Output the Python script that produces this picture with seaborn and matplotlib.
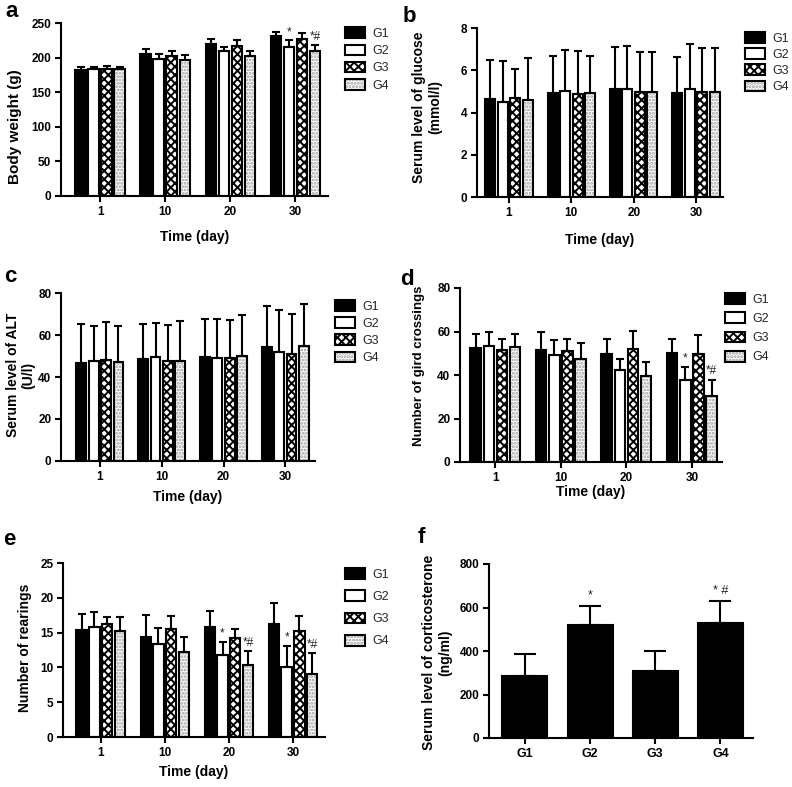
import numpy as np
import pandas as pd
import matplotlib
matplotlib.use("Agg")
import matplotlib.pyplot as plt
from matplotlib.patches import Patch
import seaborn as sns

sns.set_theme(style="ticks")
plt.rcParams['font.family'] = ['Liberation Sans', 'DejaVu Sans']
plt.rcParams['hatch.linewidth'] = 1.4

# ---------------- data ----------------
days = ['1', '10', '20', '30']
groups = ['G1', 'G2', 'G3', 'G4']

# rows: G1..G4, columns: day 1, 10, 20, 30
weight_mean = [[182, 205, 219, 231], [183, 198, 209, 216], [183, 203, 217, 227], [184, 197, 203, 210]]
weight_sd = [[4, 7, 8, 6], [4, 7, 7, 9], [5, 6, 8, 8], [3, 7, 7, 8]]

glucose_mean = [[4.63, 4.91, 5.10, 4.94], [4.52, 5.04, 5.10, 5.13], [4.70, 4.88, 4.96, 4.99], [4.60, 4.91, 4.96, 4.99]]
glucose_sd = [[1.87, 1.75, 1.98, 1.68], [1.93, 1.93, 2.06, 2.11], [1.37, 2.01, 1.92, 2.06], [1.98, 1.75, 1.92, 2.04]]

alt_mean = [[46.9, 48.6, 49.3, 54.5], [47.4, 49.4, 49.0, 52.1], [48.2, 47.4, 49.0, 51.0], [47.1, 47.7, 49.8, 54.8]]
alt_sd = [[18.3, 16.6, 18.3, 19.1], [16.7, 16.3, 18.6, 19.9], [17.8, 17.5, 18.2, 18.9], [17.0, 18.8, 19.8, 19.9]]

cross_mean = [[52.4, 51.3, 49.5, 50.3], [53.3, 49.0, 42.1, 37.5], [51.3, 50.9, 52.1, 49.8], [52.9, 47.5, 39.5, 30.3]]
cross_sd = [[6.6, 8.5, 6.9, 6.1], [6.5, 6.9, 5.4, 6.2], [5.1, 5.5, 8.0, 8.4], [6.1, 7.4, 6.5, 7.6]]

rear_mean = [[15.4, 14.3, 15.8, 16.3], [15.8, 13.3, 11.8, 10.1], [16.2, 15.5, 14.2, 15.3], [15.3, 12.2, 10.3, 9.0]]
rear_sd = [[2.3, 3.2, 2.3, 2.9], [2.1, 2.3, 1.9, 3.0], [1.0, 1.9, 1.3, 2.1], [2.0, 2.1, 2.0, 3.1]]

cort_mean = [287, 521, 307, 529]
cort_sd = [97, 86, 95, 99]

# significance labels (group index, day index, text)
weight_sig = [(1, 3, '*'), (3, 3, '*#')]
cross_sig = [(1, 3, '*'), (3, 3, '*#')]
rear_sig = [(1, 2, '*'), (3, 2, '*#'), (1, 3, '*'), (3, 3, '*#')]
cort_sig = [(1, '*'), (3, '* #')]

# ---------------- styling ----------------
W, H = 792, 787
fig = plt.figure(figsize=(W / 100, H / 100), dpi=100)

face = {'G1': 'black', 'G2': 'white', 'G3': 'white', 'G4': 'white'}
hatch = {'G1': '', 'G2': '', 'G3': 'xxxx', 'G4': '.....'}
hatch_col = {'G3': (0, 0, 0, 1), 'G4': (0.62, 0.62, 0.62, 1)}


def px_axes(l, t, r, b):
    return fig.add_axes([l / W, 1 - b / H, (r - l) / W, (b - t) / H])


def style_axes(ax, yticks, ylim, xlim):
    sns.despine(ax=ax)
    for s in ['left', 'bottom']:
        ax.spines[s].set_linewidth(1.5)
        ax.spines[s].set_color('black')
    ax.set_ylim(*ylim)
    ax.set_yticks(yticks)
    ax.set_xlim(*xlim)
    ax.tick_params(axis='both', width=1.5, length=4, color='black', pad=3,
                   labelsize=8.5, labelcolor='black')
    for lab in ax.get_xticklabels() + ax.get_yticklabels():
        lab.set_fontweight('bold')


def set_hatch(p, g):
    if hatch[g]:
        p.set_hatch(hatch[g])
        if hasattr(p, 'set_hatchcolor'):
            try:
                p.set_hatchcolor(hatch_col[g])
            except Exception:
                p._hatch_color = hatch_col[g]
        else:
            p._hatch_color = hatch_col[g]


def grouped_panel(rect, mean, sd, yticks, ylim, xlim, ylabel, ylabel_xy, xlabel_y,
                  leg_xy, leg_spacing, sig=None, ylabel_size=10):
    ax = px_axes(*rect)
    rows = []
    for gi, g in enumerate(groups):
        for di, d in enumerate(days):
            rows.append({'day': d, 'group': g, 'value': mean[gi][di]})
    df = pd.DataFrame(rows)
    sns.barplot(data=df, x='day', y='value', hue='group', order=days, hue_order=groups,
                palette=face, edgecolor='black', linewidth=1.5, width=0.8, gap=0.2,
                errorbar=None, legend=False, saturation=1, ax=ax)
    tops = {}
    for gi, (g, cont) in enumerate(zip(groups, ax.containers)):
        xs, ys = [], []
        for di, p in enumerate(cont.patches):
            set_hatch(p, g)
            x = p.get_x() + p.get_width() / 2
            xs.append(x)
            ys.append(p.get_height())
            tops[(gi, di)] = (x, p.get_height() + sd[gi][di])
        ax.errorbar(xs, ys, yerr=[np.zeros(len(ys)), sd[gi]], fmt='none', ecolor='black',
                    elinewidth=1.5, capsize=3, capthick=1.5, zorder=1)
    if sig:
        for gi, di, txt in sig:
            x, y = tops[(gi, di)]
            ax.annotate(txt, xy=(x, y), xytext=(0, 1.5), textcoords='offset points',
                        ha='center', va='bottom', fontsize=8.5, color='#222222')
    style_axes(ax, yticks, ylim, xlim)
    ax.set_ylabel(ylabel, fontsize=ylabel_size, fontweight='bold', color='black',
                  linespacing=1.15)
    ax.yaxis.set_label_coords(*ylabel_xy)
    ax.set_xlabel('Time (day)', fontsize=10, fontweight='bold', color='black')
    ax.xaxis.set_label_coords(0.5, xlabel_y)
    handles = [Patch(facecolor=face[g], edgecolor='black', linewidth=1.5, hatch=hatch[g],
                     label=g) for g in groups]
    leg = ax.legend(handles=handles, loc='upper left', bbox_to_anchor=leg_xy, frameon=False,
                    fontsize=9, handlelength=1.6, handleheight=0.95, handletextpad=0.6,
                    labelspacing=leg_spacing, borderpad=0, borderaxespad=0)
    for p, g in zip(leg.get_patches(), groups):
        set_hatch(p, g)
    return ax


# a
grouped_panel((61, 23, 328, 196), weight_mean, weight_sd, [0, 50, 100, 150, 200, 250], (0, 250),
              (-0.6, 3.5), 'Body weight (g)', (-0.146, 0.40), -0.197, (1.064, 0.975), 0.36,
              sig=weight_sig, ylabel_size=11)
# b
grouped_panel((477, 28, 723, 197), glucose_mean, glucose_sd, [0, 2, 4, 6, 8], (0, 8),
              (-0.51, 3.43), 'Serum level of glucose\n(mmol/l)', (-0.143, 0.53), -0.213,
              (1.089, 0.976), 0.28)
# c
grouped_panel((61, 293, 315, 461), alt_mean, alt_sd, [0, 20, 40, 60, 80], (0, 80),
              (-0.63, 3.48), 'Serum level of ALT\n(U/l)', (-0.10, 0.51), -0.173,
              (1.079, 0.958), 0.36)
# d
grouped_panel((460, 288, 722, 462), cross_mean, cross_sd, [0, 20, 40, 60, 80], (0, 80),
              (-0.54, 3.46), 'Number of gird crossings', (-0.135, 0.55), -0.132,
              (1.01, 0.97), 0.52, sig=cross_sig, ylabel_size=9.5)
# e
grouped_panel((63, 563, 325, 737), rear_mean, rear_sd, [0, 5, 10, 15, 20, 25], (0, 25),
              (-0.59, 3.5), 'Number of rearings', (-0.117, 0.51), -0.161,
              (1.076, 0.97), 0.76, sig=rear_sig)

# f
axf = px_axes(489, 564, 753, 738)
dff = pd.DataFrame({'group': groups, 'value': cort_mean})
sns.barplot(data=dff, x='group', y='value', order=groups, color='black', saturation=1,
            edgecolor='black', linewidth=1.5, width=0.69, errorbar=None, ax=axf)
xs = [p.get_x() + p.get_width() / 2 for p in axf.patches]
ys = [p.get_height() for p in axf.patches]
axf.errorbar(xs, ys, yerr=[np.zeros(len(ys)), cort_sd], fmt='none', ecolor='black',
             elinewidth=1.5, capsize=8, capthick=1.5, zorder=1)
for gi, txt in cort_sig:
    axf.annotate(txt, xy=(xs[gi], ys[gi] + cort_sd[gi]), xytext=(0, 3), textcoords='offset points',
                 ha='center', va='bottom', fontsize=9, color='#222222')
style_axes(axf, [0, 200, 400, 600, 800], (0, 800), (-0.55, 3.5))
axf.tick_params(axis='x', labelsize=9)
axf.set_xlabel('')
axf.set_ylabel('Serum level of corticosterone\n(ng/ml)', fontsize=10, fontweight='bold',
               color='black', linespacing=1.15)
axf.yaxis.set_label_coords(-0.14, 0.49)

# panel letters
for txt, x, y in [('a', 5, 17), ('b', 403, 22), ('c', 4, 282), ('d', 400, 285),
                  ('e', 3, 545), ('f', 418, 543)]:
    fig.text(x / W, 1 - y / H, txt, fontsize=16, fontweight='bold', va='baseline', ha='left',
             color='black')

fig.savefig('out.png', dpi=100)
